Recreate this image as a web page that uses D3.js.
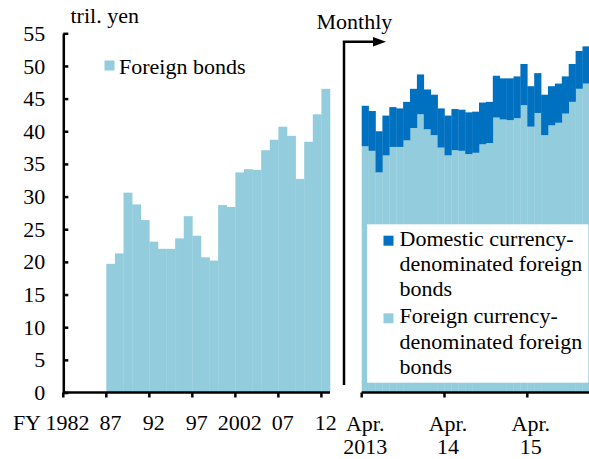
<!DOCTYPE html>
<html><head><meta charset="utf-8">
<script src="https://cdn.jsdelivr.net/npm/d3@7"></script>
<style>body{margin:0;background:#fff}svg{display:block}</style>
</head><body><div id="chart"></div>
<script>
// ---- data ----
const annualYears = d3.range(1982, 2013);
const foreignBondYears = d3.range(1987, 2013);
const foreignBonds = [19.7,21.3,30.6,28.8,26.4,23.1,22.0,22.0,23.6,27.0,24.0,20.7,20.2,28.7,28.4,33.7,34.2,34.1,37.1,38.7,40.7,39.3,32.7,38.4,42.6,46.5];
const annualTickYears = [1982,1987,1992,1997,2002,2007,2012];
const annualTickLabels = ["1982","87","92","97","2002","07","12"];

const months = d3.range(0, 33); // Apr 2013 .. Dec 2015
const foreignCurrency = [37.7,37.0,33.7,36.3,37.6,37.6,38.6,40.5,42.6,40.3,39.4,37.5,36.3,37.1,37.0,36.5,36.7,38.0,38.2,42.1,41.8,41.7,42.0,44.0,40.7,42.8,39.4,40.9,41.3,42.7,44.5,46.5,47.3];
const monthlyTotal =    [43.9,43.1,40.0,42.4,43.7,43.5,44.5,46.5,48.7,46.4,45.6,43.5,42.4,43.4,43.3,42.9,43.0,44.4,44.5,48.5,48.1,48.1,48.4,50.3,46.9,48.9,45.6,46.9,47.3,48.4,50.3,52.3,53.0];
const domesticCurrency = monthlyTotal.map((t,i)=> +(t - foreignCurrency[i]).toFixed(1));
const monthTickIdx = [0,12,24];
const monthTickLabels = [["Apr.","2013"],["Apr.","14"],["Apr.","15"]];
const yTicks = d3.range(0, 56, 5);

const LIGHT = "#93CDDD", DARK = "#0070C0";
const FONT = "'Liberation Serif', Tinos, 'Times New Roman', 'DejaVu Serif', serif";

const W = 589, H = 459;
const svg = d3.select("#chart").append("svg").attr("width", W).attr("height", H)
  .attr("font-family", FONT).attr("font-size", 22);

const y = d3.scaleLinear().domain([0, 55]).range([392.5, 33.3]);
const xL = d3.scaleBand().domain(annualYears).range([63.3, 330]).padding(0);
const xR = d3.scaleBand().domain(months).range([361.7, 589.4]).padding(0);

// left bars
svg.append("g").selectAll("rect").data(foreignBondYears).join("rect")
  .attr("x", d => xL(d)).attr("width", xL.bandwidth() + 0.3)
  .attr("y", (d,i) => y(foreignBonds[i]))
  .attr("height", (d,i) => y(0) - y(foreignBonds[i]))
  .attr("fill", LIGHT);

// right stacked bars
const stackData = months.map(i => ({m:i, foreign: foreignCurrency[i], domestic: domesticCurrency[i]}));
const series = d3.stack().keys(["foreign","domestic"])(stackData);
svg.append("g").selectAll("g").data(series).join("g")
  .attr("fill", s => s.key === "foreign" ? LIGHT : DARK)
  .selectAll("rect").data(s => s).join("rect")
  .attr("x", d => xR(d.data.m)).attr("width", xR.bandwidth() + 0.3)
  .attr("y", d => y(d[1])).attr("height", d => y(d[0]) - y(d[1]));

// legend box (right)
svg.append("rect").attr("x", 367).attr("y", 224.3).attr("width", 221.3).attr("height", 158.4).attr("fill", "#fff");
const legR = [
  {c: DARK, lines: ["Domestic currency-","denominated foreign","bonds"], y0: 245.7},
  {c: LIGHT, lines: ["Foreign currency-","denominated foreign","bonds"], y0: 323.3}
];
legR.forEach(l => {
  svg.append("rect").attr("x", 383.5).attr("y", l.y0 - 10).attr("width", 10).attr("height", 10).attr("fill", l.c);
  const t = svg.append("text").attr("x", 399.5).attr("y", l.y0);
  l.lines.forEach((s, i) => t.append("tspan").attr("x", 399.5).attr("y", l.y0 + i * 25.3).text(s));
});

// left legend
svg.append("rect").attr("x", 104.5).attr("y", 60.5).attr("width", 10).attr("height", 10).attr("fill", LIGHT);
svg.append("text").attr("x", 119).attr("y", 74).text("Foreign bonds");

// y axis
const yAx = svg.append("g").attr("transform", "translate(63.3,0)")
  .call(d3.axisLeft(y).tickValues(yTicks).tickSize(-5).tickSizeOuter(0).tickPadding(18));
yAx.attr("font-family", FONT).attr("font-size", 22);
yAx.selectAll("path,line").attr("stroke", "#000").attr("stroke-width", 2.5);
yAx.selectAll("text").attr("fill", "#000");

// left x axis
const xLAx = svg.append("g").attr("transform", `translate(0,${y(0)})`)
  .call(d3.axisBottom(xL).tickValues(annualTickYears).tickFormat(d => annualTickLabels[annualTickYears.indexOf(d)]).tickSize(5).tickSizeOuter(0).tickPadding(32.5));
xLAx.attr("font-family", FONT).attr("font-size", 22);
xLAx.selectAll("path,line").attr("stroke", "#000").attr("stroke-width", 2.5);
xLAx.selectAll(".tick line").attr("x1", -xL.bandwidth()/2).attr("x2", -xL.bandwidth()/2);
xLAx.selectAll("text").attr("fill", "#000").attr("dy", "0");
xLAx.select(".domain").attr("d", `M${xL.range()[0]},0H${xL.range()[1]}`);
svg.append("text").attr("x", 41).attr("y", 430).attr("text-anchor", "end").text("FY");

// right x axis
const xRAx = svg.append("g").attr("transform", `translate(0,${y(0)})`)
  .call(d3.axisBottom(xR).tickValues(monthTickIdx).tickFormat("").tickSize(5).tickSizeOuter(0));
xRAx.selectAll("path,line").attr("stroke", "#000").attr("stroke-width", 2.5);
xRAx.selectAll(".tick line").attr("x1", -xR.bandwidth()/2).attr("x2", -xR.bandwidth()/2);
xRAx.select(".domain").attr("d", `M${xR.range()[0]},0H${xR.range()[1]}`);
monthTickIdx.forEach((m, i) => {
  const cx = xR(m) + xR.bandwidth()/2;
  const t = svg.append("text").attr("text-anchor", "middle");
  t.append("tspan").attr("x", cx).attr("y", 431).text(monthTickLabels[i][0]);
  t.append("tspan").attr("x", cx).attr("y", 454).text(monthTickLabels[i][1]);
});

// unit label
svg.append("text").attr("x", 70.5).attr("y", 23).text("tril. yen");

// Monthly arrow
svg.append("path").attr("d", "M344,385V41.7H375").attr("fill", "none").attr("stroke", "#000").attr("stroke-width", 2.5);
svg.append("path").attr("d", "M373,37L386,41.7L373,46.4Z").attr("fill", "#000");
svg.append("text").attr("x", 316.5).attr("y", 29).text("Monthly");
</script></body></html>
